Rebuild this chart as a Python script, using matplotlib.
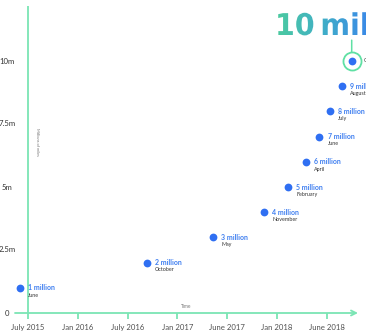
import numpy as np
import matplotlib
matplotlib.use("Agg")
import matplotlib.pyplot as plt
import matplotlib.transforms as mtransforms
from matplotlib.textpath import TextPath
from matplotlib.patches import PathPatch
from matplotlib.font_manager import FontProperties
from matplotlib.colors import LinearSegmentedColormap

# ---------------- data ----------------
# x position in months since July 2015
x_months = [-1.0, 14.3, 22.3, 28.4, 31.3, 33.5, 35.1, 36.4, 37.8, 39.0]
miles_m = [1, 2, 3, 4, 5, 6, 7, 8, 9, 10]
value_labels = ["1 million", "2 million", "3 million", "4 million", "5 million",
                "6 million", "7 million", "8 million", "9 million", ""]
month_labels = ["June", "October", "May", "November", "February",
                "April", "June", "July", "August", "October"]
xtick_pos = [0, 6, 12, 18, 24, 30, 36]
xtick_labels = ["July 2015", "Jan 2016", "July 2016", "Jan 2017",
                "June 2017", "Jan 2018", "June 2018"]
ytick_pos = [0, 2.5, 5, 7.5, 10]
ytick_labels = ["0", "2.5m", "5m", "7.5m", "10m"]
headline = "10\u2009million"

# ---------------- style ----------------
W, H = 366, 335
GREEN = "#7be5b4"
BLUE = "#2f6ff2"
LBLUE = "#3f7ff0"
FONT = "Lato"

fig = plt.figure(figsize=(W / 100, H / 100), dpi=100)
left_px, axis_px = 15, 313
ax = fig.add_axes([left_px / W, (H - axis_px) / H, (W - left_px) / W, axis_px / H])
px_per_month = 8.3
px_per_m = 25.2
ax.set_xlim((left_px - 28) / px_per_month, (W - 28) / px_per_month)
ax.set_ylim(0, axis_px / px_per_m)
for s in ax.spines.values():
    s.set_visible(False)

# axis lines
ax.plot([0, 0], [0, (axis_px - 6) / px_per_m], color=GREEN, lw=1.3, clip_on=False,
        solid_capstyle="butt")
ax.annotate("", xy=((358 - 28) / px_per_month, 0), xytext=(ax.get_xlim()[0], 0),
            arrowprops=dict(arrowstyle="->", color=GREEN, lw=1.3, mutation_scale=9,
                            shrinkA=0, shrinkB=0),
            annotation_clip=False)

ax.set_xticks(xtick_pos)
ax.set_xticklabels(xtick_labels, fontsize=5.6, color="#505050", family=FONT)
ax.tick_params(axis="x", direction="out", length=4, width=1.3, color=GREEN, pad=4)
ax.set_yticks([])
ytr = ax.get_yaxis_transform()
for yv, yl in zip(ytick_pos, ytick_labels):
    ax.text((7.2 - left_px) / (W - left_px), yv, yl, transform=ytr, fontsize=5.6,
            color="#333333", family=FONT, ha="center", va="center", clip_on=False)

# points
ax.plot(x_months, miles_m, "o", color=BLUE, markersize=5.6, markeredgewidth=0,
        clip_on=False, zorder=3)
for xm, v, vl, ml in zip(x_months, miles_m, value_labels, month_labels):
    if vl:
        ax.annotate(vl, (xm, v), xytext=(6, 0), textcoords="offset points",
                    fontsize=5.0, fontweight="bold", color=LBLUE, va="center",
                    family=FONT, annotation_clip=False)
        ax.annotate(ml, (xm, v), xytext=(6, -5.3), textcoords="offset points",
                    fontsize=3.9, color="#333333", va="center", family=FONT,
                    annotation_clip=False)
    else:
        ax.annotate(ml, (xm, v), xytext=(9, 0), textcoords="offset points",
                    fontsize=3.9, color="#333333", va="center", family=FONT,
                    annotation_clip=False)

# highlight ring on the last point
ax.plot(x_months[-1], miles_m[-1], "o", markerfacecolor="none", markeredgecolor="#5fe0a4",
        markeredgewidth=1.3, markersize=13, clip_on=False, zorder=3)
ax.annotate("", xy=(x_months[-1], miles_m[-1]), xytext=(0, 15),
            textcoords="offset points",
            arrowprops=dict(arrowstyle="-", color="#5fe0a4", lw=1.1,
                            shrinkA=0, shrinkB=6.8),
            annotation_clip=False)

# axis titles
ax.text(0.9, 7.35, "Millions of miles", rotation=-90, fontsize=2.9, color="#777777",
        va="top", ha="left", family=FONT)
ax.text(19.1, 0.15, "Time", fontsize=3.4, color="#777777", ha="center", va="bottom",
        family=FONT)

# gradient headline
ov = fig.add_axes([0, 0, 1, 1], zorder=5)
ov.patch.set_alpha(0)
tp = TextPath((0, 0), headline, size=30,
              prop=FontProperties(family="DejaVu Sans", weight="bold"))
path = mtransforms.Affine2D().scale(0.95, 1).translate(275, H - 35).transform_path(tp)
patch = PathPatch(path, facecolor="none", edgecolor="none", transform=ov.transData)
ov.add_patch(patch)
cmap = LinearSegmentedColormap.from_list("g", ["#4ccb9e", "#40aec8", "#3a86ea"])
im = ov.imshow(np.linspace(0, 1, 256).reshape(1, -1), extent=[275, 372, H - 40, H],
               aspect="auto", cmap=cmap, interpolation="bilinear")
im.set_clip_path(patch)
ov.set_xlim(0, W)
ov.set_ylim(0, H)
ov.axis("off")

fig.savefig("out.png", dpi=100)
